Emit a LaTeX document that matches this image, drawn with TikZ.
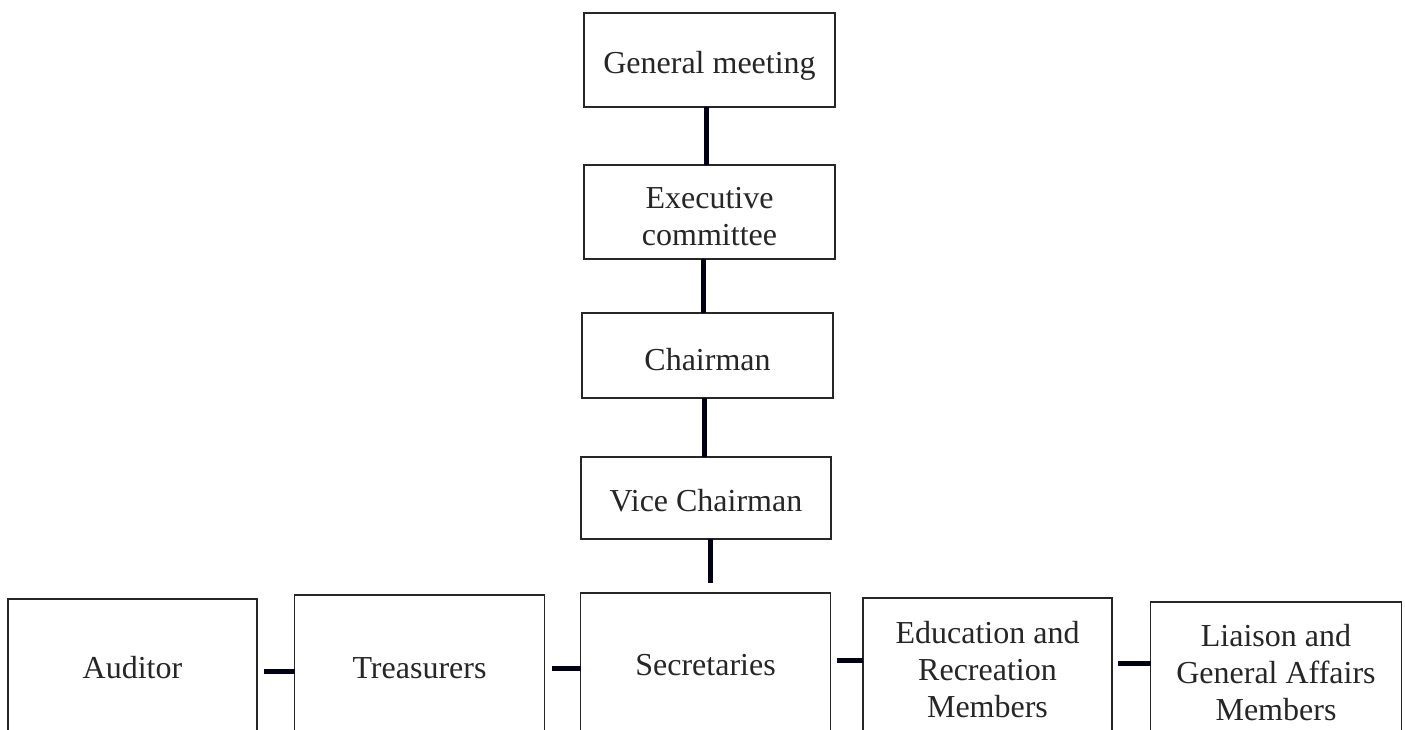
\documentclass[tikz,border=0pt]{standalone}
\usepackage{fontspec}
\setmainfont{Liberation Serif}
\begin{document}
\begin{tikzpicture}[x=1pt,y=-1pt,
  box/.style={draw=black!85,line width=1.8pt,inner sep=0pt,outer sep=0pt,align=center,
    font=\fontsize{32}{37}\selectfont,text=black!85},
  lbl/.style={inner sep=0pt,align=center,font=\fontsize{32}{37}\selectfont,text=black!85},
  conn/.style={draw=black!85!blue!60!black,line width=5pt}]
\useasboundingbox (0,0) rectangle (1405,729);
\clip (0,0) rectangle (1405,729);
\fill[white] (0,0) rectangle (1405,729);
\node[box,minimum width=251pt,minimum height=94pt] (gm) at (709.5,60) {};
\node[lbl] (gmt) at ([yshift=-6pt]gm.center) {General meeting};
\node[box,minimum width=251pt,minimum height=94pt] (ex) at (709.5,212) {};
\node[lbl] (ext) at ([yshift=-5pt]ex.center) {Executive\\committee};
\node[box,minimum width=251pt,minimum height=85pt] (ch) at (707.5,355.5) {};
\node[lbl] (cht) at ([yshift=-4pt]ch.center) {Chairman};
\node[box,minimum width=250pt,minimum height=82pt] (vc) at (706,498) {};
\node[lbl] (vct) at ([yshift=-3pt]vc.center) {Vice Chairman};
\node[box,minimum width=249pt,minimum height=138pt] (aud) at (132.5,668) {Auditor};
\node[box,minimum width=250pt,minimum height=146pt] (tre) at (419.5,668) {Treasurers};
\node[box,minimum width=250pt,minimum height=144pt] (sec) at (705.5,665) {Secretaries};
\node[box,minimum width=249pt,minimum height=144pt] (edu) at (987.5,670) {Education and\\Recreation\\Members};
\node[box,minimum width=251pt,minimum height=142pt] (lia) at (1276,673) {Liaison and\\General Affairs\\Members};
\draw[conn] ([xshift=-3.5pt]gm.south) -- ([xshift=-3.5pt]gm.south |- ex.north);
\draw[conn] ([xshift=-6.5pt]ex.south) -- ([xshift=-6.5pt]ex.south |- ch.north);
\draw[conn] ([xshift=-3.5pt]ch.south) -- ([xshift=-3.5pt]ch.south |- vc.north);
\draw[conn] ([xshift=4pt]vc.south) -- ([xshift=4pt,yshift=10pt]vc.south |- sec.north);
\draw[conn] ([xshift=7pt]aud.east |- 0,671) -- (tre.west |- 0,671);
\draw[conn] ([xshift=7pt]tre.east |- 0,668) -- (sec.west |- 0,668);
\draw[conn] ([xshift=6pt]sec.east |- 0,660) -- (edu.west |- 0,660);
\draw[conn] ([xshift=6pt]edu.east |- 0,663) -- (lia.west |- 0,663);
\end{tikzpicture}
\end{document}
